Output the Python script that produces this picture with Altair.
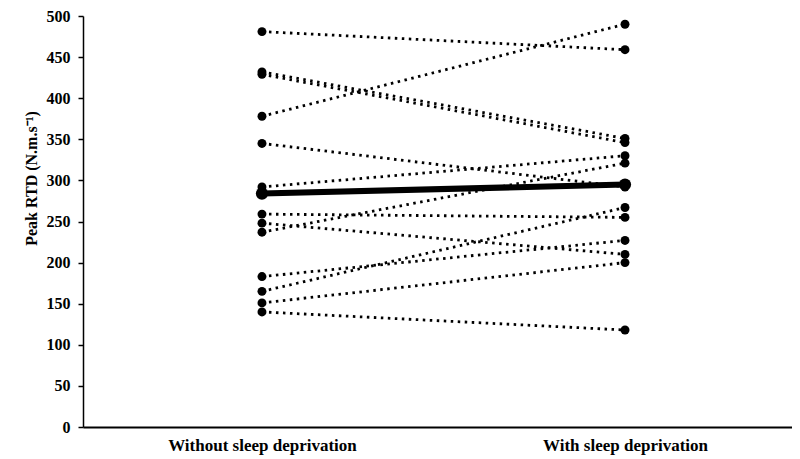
import altair as alt
import pandas as pd

conditions = ["Without sleep deprivation", "With sleep deprivation"]
without_sd = [481, 432, 429, 378, 345, 292, 259, 248, 237, 183, 165, 151, 140]
with_sd = [459, 351, 346, 490, 292, 330, 255, 210, 321, 227, 267, 200, 118]
mean_values = [284, 295]
y_ticks = [0, 50, 100, 150, 200, 250, 300, 350, 400, 450, 500]

rows = []
for i, (a, b) in enumerate(zip(without_sd, with_sd)):
    rows.append({"subject": i, "cond": 0, "value": a})
    rows.append({"subject": i, "cond": 1, "value": b})
df = pd.DataFrame(rows)
mean_df = pd.DataFrame({"subject": [99, 99], "cond": [0, 1], "value": mean_values})

FONT = "Liberation Serif"

x_enc = alt.X(
    "cond:Q",
    scale=alt.Scale(domain=[-0.493, 1.46], nice=False, zero=False),
    axis=alt.Axis(
        values=[0, 1],
        labelExpr=f"datum.value == 0 ? '{conditions[0]}' : '{conditions[1]}'",
        title=None,
        ticks=False,
        grid=False,
        domainColor="black",
        domainWidth=2,
        labelFont=FONT,
        labelFontSize=17,
        labelFontWeight="bold",
        labelColor="black",
        labelPadding=10,
        labelLimit=500,
        labelFlush=False,
        labelOverlap=False,
    ),
)
y_enc = alt.Y(
    "value:Q",
    scale=alt.Scale(domain=[0, 500], nice=False),
    axis=alt.Axis(
        values=y_ticks,
        title="Peak RTD (N.m.s⁻¹)",
        grid=False,
        domainColor="black",
        domainWidth=1.5,
        tickColor="black",
        tickWidth=1.5,
        tickSize=5,
        labelFont=FONT,
        labelFontSize=16,
        labelFontWeight="bold",
        labelColor="black",
        labelPadding=8,
        titleFont=FONT,
        titleFontSize=16,
        titleFontWeight="bold",
        titleColor="black",
        titleAngle=270,
        titleAlign="center",
        titleBaseline="middle",
        titleX=-52,
        titleY=162,
    ),
)

ind_lines = alt.Chart(df).mark_line(
    color="black", strokeWidth=2.8, strokeDash=[2.5, 4.5]
).encode(x=x_enc, y=y_enc, detail="subject:N")

ind_points = alt.Chart(df).mark_circle(
    color="black", size=80, opacity=1
).encode(x=x_enc, y=y_enc)

mean_line = alt.Chart(mean_df).mark_line(
    color="black", strokeWidth=6
).encode(x=x_enc, y=y_enc, detail="subject:N")

mean_points = alt.Chart(mean_df).mark_circle(
    color="black", size=150, opacity=1
).encode(x=x_enc, y=y_enc)

chart = (
    alt.layer(ind_lines, ind_points, mean_line, mean_points)
    .properties(
        width=709,
        height=411,
        autosize=alt.AutoSizeParams(type="none"),
        padding={"left": 75, "top": 8, "right": 0, "bottom": 32},
        background="white",
    )
    .configure_view(strokeWidth=0)
)

chart.save("out.html", embed_options={"renderer": "svg", "actions": False})
